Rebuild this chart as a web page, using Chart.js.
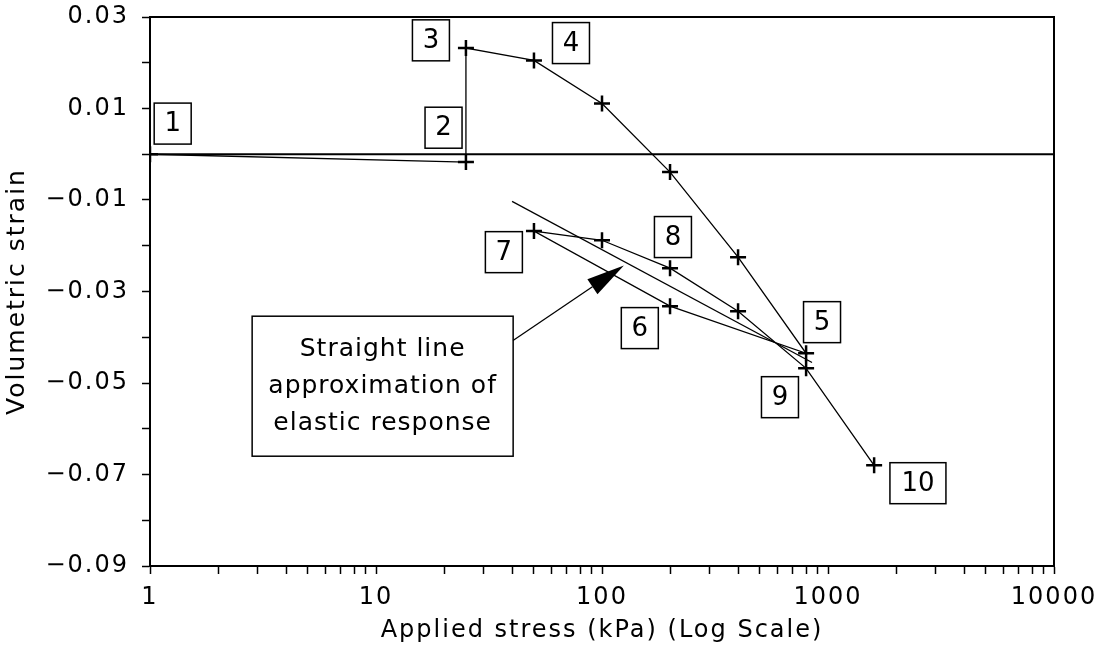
<!DOCTYPE html>
<html>
<head>
<meta charset="utf-8">
<script src="https://cdn.jsdelivr.net/npm/chart.js@4/dist/chart.umd.min.js"></script>
<style>
html,body{margin:0;padding:0;background:#fff;}
#wrap{width:1105px;height:653px;}
</style>
</head>
<body>
<div id="wrap"><canvas id="strainChart"></canvas></div>
<script>
// load path: stress (kPa) and volumetric strain at each loading stage
const stressKPa = [1, 25, 25, 50, 100, 200, 400, 800, 200, 50, 100, 200, 400, 800, 1600];
const volStrain = [0.0, -0.0017, 0.0232, 0.0205, 0.0111, -0.0039, -0.0225, -0.0435,
                   -0.0332, -0.0168, -0.0188, -0.0249, -0.0343, -0.0468, -0.0680];

// straight line approximation of elastic response
const elasticX = [40, 850];
const elasticY = [-0.0103, -0.0455];

// zero strain reference line
const zeroX = [1, 10000];
const zeroY = [0, 0];

// axis ticks
const xTickValues = [];
[1, 10, 100, 1000].forEach(d => { for (let m = 1; m < 10; m++) xTickValues.push(m * d); });
xTickValues.push(10000);
const xTickLabels = ['1', '10', '100', '1000', '10000'];
const yTickLabels = ['\u22120.09', '\u22120.07', '\u22120.05', '\u22120.03', '\u22120.01', '0.01', '0.03'];

// stage labels
const stageNames = ['1', '2', '3', '4', '5', '6', '7', '8', '9', '10'];
const stageLabelX = [1.26, 19.9, 17.5, 72.9, 941, 147, 36.8, 206, 613, 2500];
const stageLabelY = [0.0067, 0.0058, 0.0249, 0.0243, -0.0367, -0.0380, -0.0214, -0.0181, -0.0531, -0.0719];

const noteLines = ['Straight line', 'approximation of', 'elastic response'];

const FONT = '"DejaVu Sans", sans-serif';

function pts(xs, ys) {
  return xs.map((x, i) => ({x: x, y: ys[i]}));
}

// wider letter spacing, like the plotter font of the original
const spacing = {
  id: 'spacing',
  beforeDraw(chart) { chart.ctx.letterSpacing = '2px'; }
};

const annotations = {
  id: 'annotations',
  afterDatasetsDraw(chart) {
    const ctx = chart.ctx;
    const xs = chart.scales.x, ys = chart.scales.y;
    const a = chart.chartArea;
    ctx.save();
    // frame
    ctx.strokeStyle = '#000';
    ctx.lineWidth = 2;
    ctx.strokeRect(a.left, a.top, a.right - a.left, a.bottom - a.top);

    // numbered stage boxes
    ctx.font = '26px ' + FONT;
    ctx.letterSpacing = '0px';
    ctx.textAlign = 'center';
    ctx.textBaseline = 'middle';
    ctx.lineWidth = 1.5;
    stageNames.forEach((s, i) => {
      const cx = xs.getPixelForValue(stageLabelX[i]);
      const cy = ys.getPixelForValue(stageLabelY[i]);
      const w = 18 + 19 * s.length, h = 41;
      ctx.fillStyle = '#fff';
      ctx.fillRect(cx - w / 2, cy - h / 2, w, h);
      ctx.strokeRect(cx - w / 2, cy - h / 2, w, h);
      ctx.fillStyle = '#000';
      ctx.fillText(s, cx, cy + 1);
    });

    // note box with arrow
    const nx = xs.getPixelForValue(10.7), ny = ys.getPixelForValue(-0.0507);
    const nw = 261, nh = 140;
    ctx.fillStyle = '#fff';
    ctx.fillRect(nx - nw / 2, ny - nh / 2, nw, nh);
    ctx.strokeRect(nx - nw / 2, ny - nh / 2, nw, nh);
    ctx.fillStyle = '#000';
    ctx.font = '25px ' + FONT;
    ctx.letterSpacing = '1px';
    noteLines.forEach((t, i) => ctx.fillText(t, nx, ny + (i - 1) * 37));

    const sx = xs.getPixelForValue(40.4), sy = ys.getPixelForValue(-0.0407);
    const tx = xs.getPixelForValue(125), ty = ys.getPixelForValue(-0.0243);
    const ang = Math.atan2(ty - sy, tx - sx);
    const headLen = 38, headW = 9;
    const bx = tx - headLen * Math.cos(ang), by = ty - headLen * Math.sin(ang);
    ctx.beginPath();
    ctx.moveTo(sx, sy);
    ctx.lineTo(bx, by);
    ctx.lineWidth = 1.3;
    ctx.stroke();
    ctx.beginPath();
    ctx.moveTo(tx, ty);
    ctx.lineTo(bx + headW * Math.sin(ang), by - headW * Math.cos(ang));
    ctx.lineTo(bx - headW * Math.sin(ang), by + headW * Math.cos(ang));
    ctx.closePath();
    ctx.fill();
    ctx.restore();
  }
};

new Chart(document.getElementById('strainChart'), {
  type: 'scatter',
  data: {
    datasets: [
      {
        label: 'Zero strain',
        data: pts(zeroX, zeroY),
        showLine: true,
        borderColor: '#000',
        borderWidth: 2,
        pointRadius: 0
      },
      {
        label: 'Elastic approximation',
        data: pts(elasticX, elasticY),
        showLine: true,
        borderColor: '#000',
        borderWidth: 1.2,
        pointRadius: 0
      },
      {
        label: 'Volumetric strain',
        data: pts(stressKPa, volStrain),
        showLine: true,
        borderColor: '#000',
        borderWidth: 1.3,
        pointStyle: 'cross',
        pointRadius: 8,
        pointBorderWidth: 2.5,
        pointBorderColor: '#000',
        pointBackgroundColor: '#000'
      }
    ]
  },
  options: {
    responsive: true,
    maintainAspectRatio: false,
    animation: false,
    layout: {padding: {top: 17, right: 51, left: 0, bottom: 0}},
    plugins: {legend: {display: false}, tooltip: {enabled: false}},
    scales: {
      x: {
        type: 'logarithmic',
        min: 1,
        max: 10000,
        afterBuildTicks: s => { s.ticks = xTickValues.map(v => ({value: v})); },
        afterFit: s => { s.height = 87; s.paddingLeft = 0; s.paddingRight = 0; },
        border: {display: true, color: '#000', width: 2},
        grid: {drawOnChartArea: false, drawTicks: true, tickLength: 8, color: '#000', tickWidth: 1.5},
        ticks: {
          autoSkip: false,
          maxRotation: 0,
          padding: 9,
          color: '#000',
          font: {family: FONT, size: 24},
          callback: v => {
            const i = [1, 10, 100, 1000, 10000].indexOf(v);
            return i >= 0 ? xTickLabels[i] : '';
          }
        },
        title: {
          display: true,
          text: 'Applied stress (kPa) (Log Scale)',
          color: '#000',
          font: {family: FONT, size: 24},
          padding: {top: 0, bottom: 8}
        }
      },
      y: {
        min: -0.09,
        max: 0.03,
        afterFit: s => { s.width = 150; s.paddingTop = 0; s.paddingBottom = 0; },
        border: {display: true, color: '#000', width: 2},
        grid: {drawOnChartArea: false, drawTicks: true, tickLength: 8, color: '#000', tickWidth: 1.5},
        ticks: {
          stepSize: 0.01,
          autoSkip: false,
          padding: 13,
          color: '#000',
          font: {family: FONT, size: 24},
          callback: v => {
            const k = Math.round(v * 100);
            if (Math.abs(k) % 2 !== 1) return '';
            return yTickLabels[(k + 9) / 2];
          }
        },
        title: {
          display: true,
          text: 'Volumetric strain',
          color: '#000',
          font: {family: FONT, size: 25},
          padding: {top: 2, bottom: 0}
        }
      }
    }
  },
  plugins: [spacing, annotations]
});
</script>
</body>
</html>
